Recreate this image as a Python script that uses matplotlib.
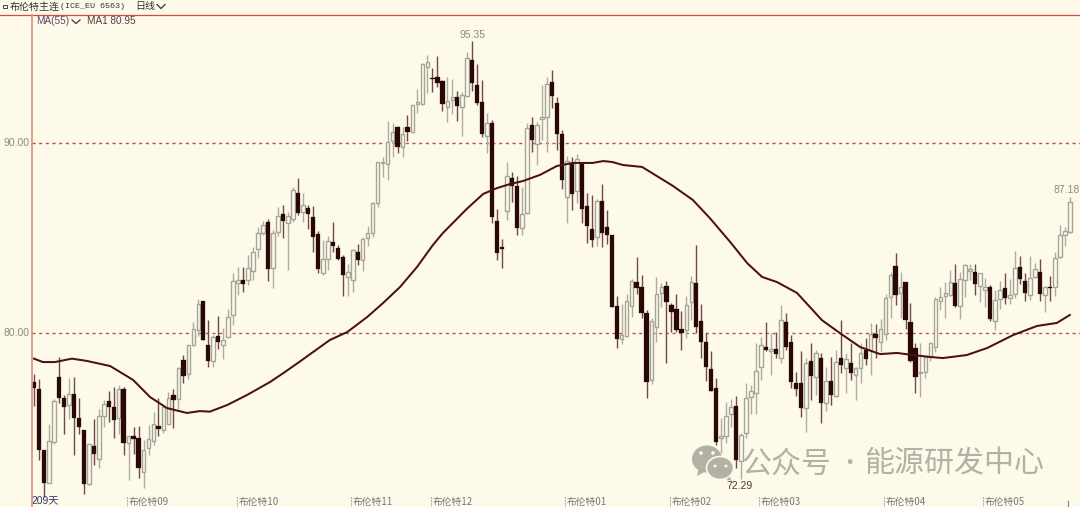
import matplotlib
matplotlib.use("Agg")
import matplotlib.pyplot as plt
from matplotlib.patches import Ellipse, Polygon, Rectangle

# ---------- data (prices) ----------
kinds = ("DDDLLDDLDD" "DLDLLDDLDL" "DDLLLDLLDL" "DLLLDDLDLL" "LLDLLLLDLL"
         "DLLDLDDDLL" "DDDLLDLLLL" "LLLDLDLLLL" "DDDLLDLLDD" "DLDDDLDDLL"
         "DLLLDDDLDL" "DDDLDDDDLL" "LDDDLLLDDD" "DLLDDDDDLL" "LDLLLLLDLD"
         "LDDDDLDLDL" "DLDLDLLDLD" "LLLDLDDDLL" "LLLLLDLLLD" "LLDLLDLLDD"
         "LLDLDLLLL")

highs = [77.83,77.60,73.86,75.23,76.51,78.74,76.72,77.65,77.68,76.60,
74.91,74.21,75.49,76.02,76.46,76.95,77.16,77.25,77.16,74.56,
75.05,75.09,74.39,75.14,75.84,76.60,76.19,76.90,77.07,78.21,
78.83,79.35,80.56,81.77,81.70,80.69,79.90,80.91,80.25,81.25,
83.18,83.49,83.46,84.11,84.51,85.60,85.91,85.98,85.42,86.65,
86.74,86.39,87.67,88.14,87.35,86.74,86.69,85.39,84.90,85.11,
85.86,84.63,84.11,83.61,84.40,84.69,85.07,85.65,86.91,89.02,
89.24,91.16,91.07,90.89,90.82,91.47,92.00,92.82,94.19,94.63,
93.93,94.58,93.31,93.46,93.35,92.75,92.70,94.81,95.35,94.16,
93.31,91.56,91.21,86.51,84.93,88.98,88.49,88.26,87.67,91.03,
91.39,91.09,93.05,93.49,93.84,92.44,90.68,89.31,89.28,89.42,
88.93,87.38,87.26,87.03,87.84,86.47,85.16,81.96,81.51,82.05,
82.82,83.98,83.05,81.21,80.77,82.93,82.61,82.75,81.56,82.05,
81.16,81.96,83.02,84.63,81.52,79.98,79.07,77.64,75.50,76.38,
76.50,76.68,74.72,77.35,77.26,79.49,79.77,80.59,79.98,80.07,
81.47,81.03,79.89,77.96,79.07,78.66,79.45,79.10,78.96,78.22,
78.75,79.10,80.68,78.93,79.45,78.22,79.45,79.72,80.54,80.47,
80.74,82.04,83.23,84.19,83.23,82.67,81.56,79.45,79.45,78.84,
79.54,81.91,82.44,82.70,83.32,83.63,83.23,83.63,83.63,83.63,
83.18,82.88,82.53,82.26,82.76,83.14,82.83,84.33,84.07,83.14,
84.07,83.67,83.88,82.47,83.02,84.25,85.69,85.56,87.18]

body_tops = [77.42,77.04,73.86,74.32,76.42,77.68,76.56,76.81,76.81,75.54,
74.88,74.18,74.07,75.63,76.25,76.42,76.11,77.04,77.04,74.56,
74.60,74.46,73.82,74.40,75.19,75.12,76.11,76.56,76.72,78.18,
78.60,79.35,80.21,81.51,81.69,79.35,79.81,79.84,79.61,80.86,
82.76,82.79,82.79,83.44,84.28,85.25,85.69,85.86,85.25,86.16,
86.25,86.18,87.53,87.39,86.72,86.56,86.12,85.19,83.88,84.86,
84.81,84.46,83.98,83.23,84.37,84.25,84.93,85.28,86.83,89.00,
89.00,90.05,90.60,90.86,90.45,90.82,91.98,92.18,94.16,94.28,
93.40,93.46,93.28,92.23,92.44,92.40,92.53,94.46,94.37,93.05,
92.18,91.07,91.03,85.90,84.51,88.26,88.17,87.74,86.25,90.77,
90.95,90.95,91.39,93.09,93.23,92.09,90.47,89.07,88.89,89.17,
88.89,86.68,85.45,86.96,86.95,85.56,85.16,81.42,79.89,81.70,
82.74,82.70,82.40,81.03,80.63,82.05,82.40,82.49,81.47,81.26,
80.19,81.45,82.66,82.61,80.65,79.50,78.12,77.12,74.57,75.65,
76.12,76.15,74.63,76.59,76.94,78.01,79.36,79.28,79.14,79.14,
80.68,80.56,79.54,77.38,77.38,78.43,78.54,78.93,78.70,77.49,
77.47,78.49,78.71,78.64,78.40,78.14,78.96,79.10,79.94,79.93,
80.21,81.86,83.04,83.54,82.44,82.67,80.59,79.19,77.94,78.72,
79.45,81.77,81.88,82.09,82.67,82.61,82.83,83.58,83.37,83.23,
83.14,82.44,82.44,81.74,82.26,82.35,82.00,83.44,83.49,82.76,
82.91,83.35,83.19,82.44,82.44,83.97,85.16,85.37,86.88]

body_bottoms = [77.11,73.86,72.12,72.12,74.26,76.58,76.11,76.23,75.53,75.05,
72.07,72.07,73.61,73.39,75.61,76.11,75.40,75.54,74.21,74.21,
74.44,72.91,72.70,73.97,74.32,74.95,74.88,75.23,76.49,76.51,
77.74,77.82,79.35,80.16,79.65,78.53,78.51,79.54,79.35,79.77,
80.95,82.61,82.58,82.79,83.28,84.40,85.25,83.35,83.44,85.33,
85.90,85.81,85.98,86.33,86.39,86.25,85.07,83.35,83.18,83.88,
84.56,83.88,83.05,82.97,82.79,83.83,83.83,85.02,85.25,86.82,
88.93,88.89,90.12,89.77,89.77,90.60,90.60,92.03,92.03,94.02,
93.35,93.18,92.05,91.91,92.26,91.96,91.88,92.47,93.14,92.09,
90.47,90.37,86.10,84.19,84.44,86.44,87.74,85.54,85.54,86.30,
90.16,89.93,91.25,91.35,92.47,90.47,88.05,87.17,87.30,87.47,
86.54,85.63,84.89,85.03,85.24,85.17,81.38,79.68,79.68,79.86,
81.44,82.35,81.07,77.43,77.52,80.29,82.12,81.65,81.12,80.15,
79.98,80.15,81.65,80.33,79.54,78.19,76.96,74.28,74.47,74.60,
75.72,73.31,73.26,74.75,76.64,76.82,78.19,79.10,79.03,78.89,
78.71,79.28,77.43,77.05,76.03,76.07,77.73,77.70,76.29,76.29,
76.73,76.70,78.31,78.14,77.91,77.77,78.14,78.63,79.10,79.72,
79.54,79.94,81.91,82.00,82.09,80.69,78.54,77.66,77.91,77.93,
78.72,79.28,81.70,81.95,82.00,81.42,81.44,82.79,83.25,82.56,
82.49,82.26,80.74,80.65,81.77,81.83,81.83,82.04,82.83,82.09,
82.00,82.93,82.05,82.00,82.35,82.44,84.02,85.16,85.32]

lows = [76.14,73.30,71.37,72.12,74.18,76.32,74.70,75.49,73.56,74.70,
71.54,71.98,73.04,72.91,75.05,75.32,74.49,74.70,73.56,72.28,
73.61,72.37,71.86,73.56,74.09,74.56,74.74,75.19,75.02,76.02,
77.37,77.60,79.30,79.86,79.61,78.21,78.21,79.18,78.65,79.72,
80.42,82.00,82.18,82.53,82.79,83.93,85.16,82.76,82.35,85.11,
84.98,83.32,85.86,86.21,85.86,85.47,84.28,83.14,83.05,83.32,
84.28,83.84,81.95,81.95,82.18,83.58,83.26,84.58,85.07,86.65,
88.23,88.05,89.24,89.46,89.28,90.10,90.51,91.60,92.00,92.65,
92.70,92.96,91.70,91.12,91.53,91.18,90.38,92.44,92.75,92.00,
90.33,89.49,85.77,83.84,83.44,85.95,86.91,85.16,85.16,86.25,
89.51,88.84,90.16,89.54,91.86,89.63,87.56,85.77,86.47,86.82,
85.81,84.75,84.54,84.59,84.54,84.66,81.38,79.19,79.42,79.80,
80.86,82.03,80.77,76.56,77.31,79.54,81.38,78.40,80.07,80.07,
79.10,79.72,80.68,79.98,78.71,77.49,76.96,74.10,73.66,74.19,
75.07,72.87,72.29,74.45,75.73,75.73,77.52,79.07,77.79,78.66,
78.40,79.10,77.08,76.68,75.59,74.80,76.47,76.73,75.24,75.91,
76.21,76.65,77.91,76.82,77.52,76.47,77.35,78.31,77.79,78.66,
79.01,79.63,80.77,81.47,80.81,80.21,78.49,76.82,76.61,77.61,
78.52,79.01,81.21,80.77,81.95,81.39,80.74,81.88,82.79,82.00,
81.65,81.39,80.65,80.16,81.25,81.53,81.51,81.83,82.56,81.69,
81.74,82.88,81.69,81.09,81.69,81.95,83.97,84.58,85.25]

ma_days = [0,1.8,4.2,7.6,10.6,15.3,19.9,23.3,26.7,30.7,33.3,35.3,38.8,42.8,47.4,
           50.4,53.4,59.4,62.9,66.9,70.1,73.5,76.9,80.1,82.1,86.9,90.2,93,95.6,98.2,
           101.6,105,108.2,112.2,114.3,116.1,118.3,122.1,125.7,128.3,132.3,135.7,
           139.8,143.2,146.2,149.2,153.2,155.8,158.2,161.8,165.9,169.9,173.3,176.5,
           179.9,182.5,187.3,191.4,196.6,201.4,205.4,208]
ma_values = [78.65,78.47,78.47,78.65,78.53,78.26,77.53,76.63,76.05,75.79,75.89,75.86,76.21,76.74,77.42,
             77.95,78.5,79.63,80.05,80.84,81.58,82.42,83.47,84.63,85.26,86.53,87.32,87.63,87.84,88.00,
             88.32,88.79,88.95,88.95,89.05,89.00,88.84,88.74,88.16,87.74,87.00,86.05,
             84.79,83.68,82.95,82.68,82.11,81.37,80.68,80.00,79.26,78.89,78.95,78.84,
             78.74,78.68,78.84,79.21,79.89,80.37,80.53,80.95]

price_levels = [90, 80]
price_labels = ["90.00", "80.00"]
month_labels = ["布伦特09", "布伦特10", "布伦特11", "布伦特12", "布伦特01",
                "布伦特02", "布伦特03", "布伦特04", "布伦特05"]
month_ticks_px = [127, 237, 351, 431, 565, 670, 759, 884, 983]

# ---------- style ----------
BG = "#fefae9"
DARK = "#2a0808"
DARK_WICK = "#6f4c48"
LIGHT_EDGE = "#a4a49b"
LIGHT_WICK = "#adada5"
MA_COL = "#4d1012"
GREY = "#8a8a86"
LATIN = ["Liberation Sans", "Noto Sans CJK SC"]
CJK = ["Noto Sans CJK SC", "DejaVu Sans"]

fig = plt.figure(figsize=(10.8, 5.07), dpi=100, facecolor=BG)
ax = fig.add_axes([0, 0, 1, 1], facecolor=BG)
ax.set_xlim(-6.827, 210.04)
ax.set_ylim(70.842, 97.526)
ax.axis("off")

ax.hlines(price_levels, -0.4, 210.04, color="#b4504c", lw=1.0, ls=(0, (2.2, 2.6)), zorder=1)

xs_d = [i for i, k in enumerate(kinds) if k == "D"]
xs_l = [i for i, k in enumerate(kinds) if k == "L"]

ax.vlines(xs_l, [lows[i] for i in xs_l], [highs[i] for i in xs_l], color=LIGHT_WICK, lw=1.0, zorder=2)
ax.vlines(xs_d, [lows[i] for i in xs_d], [highs[i] for i in xs_d], color=DARK_WICK, lw=1.0, zorder=2)
ax.bar(xs_l, [body_tops[i] - body_bottoms[i] for i in xs_l], bottom=[body_bottoms[i] for i in xs_l],
       width=0.72, facecolor=BG, edgecolor=LIGHT_EDGE, linewidth=1.0, zorder=3)
ax.bar(xs_d, [body_tops[i] - body_bottoms[i] for i in xs_d], bottom=[body_bottoms[i] for i in xs_d],
       width=0.86, facecolor=DARK, edgecolor=DARK, linewidth=0.2, zorder=3)
ax.plot(ma_days, ma_values, color=MA_COL, lw=1.45, zorder=4, solid_joinstyle="round")

# ---------- overlay in pixel coordinates for the terminal chrome ----------
ov = fig.add_axes([0, 0, 1, 1], facecolor="none")
ov.set_xlim(0, 1080)
ov.set_ylim(507, 0)
ov.axis("off")

ov.plot([0, 1080], [14.5, 14.5], color="#d8483c", lw=0.9, zorder=5)
ov.plot([32, 32], [14.5, 507], color="#e8917f", lw=1.3, zorder=5)
ov.add_patch(Rectangle((2.5, 5), 4.5, 3, fill=False, ec="#444444", lw=0.7))

ov.text(10, 6.5, "布伦特主连", family=CJK, fontsize=7.2, color="#333333", va="center", ha="left")
ov.text(60, 6.5, "(ICE_EU 6563)", family=["Liberation Mono"], fontsize=6, color="#333333", va="center", ha="left")
ov.text(135, 6.5, "日线", family=CJK, fontsize=7.2, color="#333333", va="center", ha="left")
ov.plot([157, 161, 165], [4.5, 8.5, 4.5], color="#333333", lw=0.9)

ov.text(36, 21, "MA(55)", family=LATIN, fontsize=7.2, color="#5a4668", va="center", ha="left")
ov.plot([72, 76, 80], [20, 23.5, 20], color="#4a3040", lw=0.9)
ov.text(87, 21, "MA1 80.95", family=LATIN, fontsize=7.2, color="#5a3848", va="center", ha="left")

for level, label in zip(price_levels, price_labels):
    ov.text(30, 333 - (level - 80) * 19, label, family=LATIN, fontsize=7.5, color=GREY, va="center", ha="right")

ov.text(472, 35, "95.35", family=LATIN, fontsize=7.5, color=GREY, va="center", ha="center")
ov.text(1079.5, 190, "87.18", family=LATIN, fontsize=7.5, color=GREY, va="center", ha="right")
ov.text(740, 486, "72.29", family=LATIN, fontsize=7.5, color="#4a3a3a", va="center", ha="center")
ov.text(31, 500, "209天", family=LATIN, fontsize=7.4, color="#33336e", va="center", ha="left")

for px, label in zip(month_ticks_px, month_labels):
    ov.plot([px, px], [497, 507], color="#8a8a86", lw=0.7, ls=(0, (1.5, 1.5)))
    ov.text(px + 2, 501.5, label, family=LATIN[::-1], fontsize=7, color="#77777a", va="center", ha="left")
ov.plot([1068, 1068], [501, 507], color="#8a8a86", lw=0.9)

# watermark
WM = "#b3b1a5"
ov.add_patch(Polygon([(699, 466), (697, 476), (708, 470)], fc=WM, ec="none", zorder=6))
ov.add_patch(Ellipse((707, 459), 30, 27, fc=WM, ec="none", zorder=6))
ov.add_patch(Polygon([(728, 474), (732, 481), (722, 478)], fc=WM, ec="none", zorder=7))
ov.add_patch(Ellipse((720, 468), 27, 23, fc=WM, ec=BG, lw=1.2, zorder=7))
for cx, cy, r, z in [(701, 453, 3.6, 8), (713, 453, 3.6, 8), (715, 466, 3.0, 8), (726, 466, 3.0, 8)]:
    ov.add_patch(Ellipse((cx, cy), r, r, fc=BG, ec="none", zorder=z))
ov.text(741, 464, "公众号", family=CJK, fontsize=21.6, color=WM, va="center", ha="left", zorder=6)
ov.text(849, 464, "·", family=CJK, fontsize=16, color=WM, va="center", ha="center", zorder=6)
ov.text(864, 464, "能源研发中心", family=CJK, fontsize=21.6, color=WM, va="center", ha="left", zorder=6)

fig.savefig("out.png", dpi=100, facecolor=BG)
